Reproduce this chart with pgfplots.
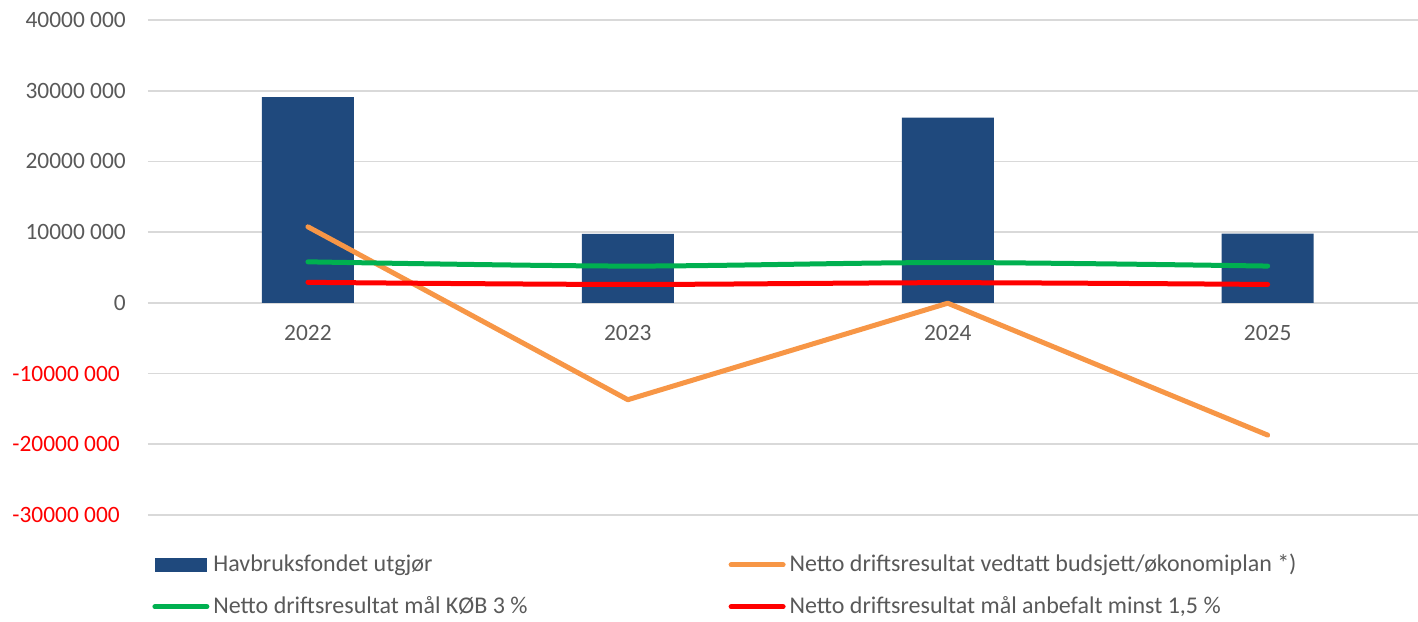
\documentclass[border=0pt]{standalone}
\usepackage{pgfplots}
\pgfplotsset{compat=1.18}
\usepackage{fontspec}
\setmainfont{Carlito}
\definecolor{barblue}{RGB}{31,73,125}
\definecolor{orangeL}{RGB}{247,150,70}
\definecolor{greenL}{RGB}{0,176,80}
\definecolor{redL}{RGB}{255,0,0}
\definecolor{gridgray}{RGB}{217,217,217}
\definecolor{txtgray}{RGB}{89,89,89}
\begin{document}
\fontsize{11.7}{14}\selectfont
\begin{tikzpicture}
\begin{axis}[name=ax, scale only axis, width=635pt, height=247.5pt,
  xmin=-0.5, xmax=3.47, ymin=-30000000, ymax=40000000,
  axis x line=middle, axis y line=left, axis line style={draw=none},
  hide obscured x ticks=false, hide obscured y ticks=false,
  scaled y ticks=false,
  major tick length=0pt,
  xtick={0,1,2,3}, xticklabels={2022,2023,2024,2025},
  ytick={-30000000,-20000000,-10000000,0,10000000,20000000,30000000,40000000},
  yticklabels={\textcolor{redL}{-30000 000\hspace{3pt}},\textcolor{redL}{-20000 000\hspace{3pt}},\textcolor{redL}{-10000 000\hspace{3pt}},0,10000 000,20000 000,30000 000,40000 000},
  ymajorgrids, grid style={gridgray, line width=0.8pt},
  ticklabel style={font=\fontsize{11.7}{14}\selectfont, text=txtgray},
  yticklabel style={anchor=east, xshift=-7pt},
  xticklabel style={anchor=north, yshift=-7pt},
  legend columns=2, legend cell align=left,
  legend style={draw=none, fill=none, at={(0,0)}, anchor=north west, xshift=-1pt, yshift=-15.5pt,
    font=\fontsize{12}{14}\selectfont, text=txtgray, row sep=6.5pt,
    /tikz/every even column/.append style={column sep=98.5pt}},
  legend image code/.code={\draw[#1,line cap=round] (0pt,0pt) -- (26pt,0pt);},
]
\addplot[ybar, bar width=46pt, fill=barblue, draw=none,
  legend image code/.code={\fill[barblue] (0pt,-3.5pt) rectangle (26pt,3.5pt);}]
  coordinates {(0,29100000) (1,9750000) (2,26200000) (3,9800000)};
\addlegendentry{Havbruksfondet utgjør}
\addplot[orangeL, line width=2.5pt, line cap=round, line join=round, no marks]
  coordinates {(0,10750000) (1,-13700000) (2,-50000) (3,-18700000)};
\addlegendentry{Netto driftsresultat vedtatt budsjett/økonomiplan *)}
\addplot[greenL, line width=2.5pt, line cap=round, smooth, no marks]
  coordinates {(0,5800000) (1,5200000) (2,5700000) (3,5200000)};
\addlegendentry{Netto driftsresultat mål KØB 3 \%}
\addplot[redL, line width=2.5pt, line cap=round, smooth, no marks]
  coordinates {(0,2900000) (1,2600000) (2,2850000) (3,2600000)};
\addlegendentry{Netto driftsresultat mål anbefalt minst 1,5 \%}
\end{axis}
\pgfresetboundingbox
\path[use as bounding box] ([xshift=-74pt,yshift=-53.5pt]ax.south west) rectangle ([yshift=10pt]ax.north east);
\end{tikzpicture}
\end{document}
